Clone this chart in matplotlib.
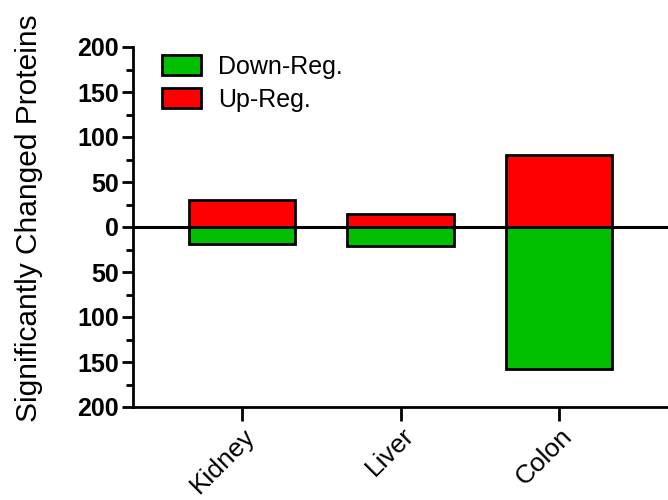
import matplotlib.pyplot as plt
from matplotlib.ticker import MultipleLocator, FuncFormatter
from matplotlib.transforms import ScaledTranslation
import numpy as np

plt.rcParams['font.family'] = ['Liberation Sans', 'DejaVu Sans']

tissues = ['Kidney', 'Liver', 'Colon']
up_reg = [30, 14, 80]
down_reg = [19, 21, 158]

green = '#00c000'
red = '#ff0000'

fig = plt.figure(figsize=(6.68, 5), dpi=100)
ax = fig.add_axes([133/668, 93/500, 1 - 133/668, 360/500])

x = np.arange(len(tissues))
w = 0.67
ax.bar(x, [-d for d in down_reg], width=w, color=green, edgecolor='black',
       linewidth=2, label='Down-Reg.', zorder=2)
ax.bar(x, up_reg, width=w, color=red, edgecolor='black',
       linewidth=2, label='Up-Reg.', zorder=2)
ax.axhline(0, color='black', linewidth=2.2, zorder=3)

ax.set_xlim(-0.69, 2.69)
ax.set_ylim(-200, 200)
ax.yaxis.set_major_locator(MultipleLocator(50))
ax.yaxis.set_minor_locator(MultipleLocator(25))
ax.yaxis.set_major_formatter(FuncFormatter(lambda v, p: '%d' % abs(v)))

for s in ['top', 'right']:
    ax.spines[s].set_visible(False)
for s in ['left', 'bottom']:
    ax.spines[s].set_linewidth(2)

ax.tick_params(axis='y', which='major', length=8, width=2, labelsize=18, pad=2)
ax.tick_params(axis='y', which='minor', length=5, width=2)
ax.tick_params(axis='x', length=10, width=2, pad=2)
for lab in ax.get_yticklabels():
    lab.set_fontweight('bold')

ax.set_xticks(x)
ax.set_xticklabels(tissues, rotation=45, ha='right', rotation_mode='anchor',
                   fontsize=19)
for lab in ax.get_xticklabels():
    lab.set_transform(lab.get_transform() + ScaledTranslation(0.01, 0, fig.dpi_scale_trans))

ax.set_ylabel('Significantly Changed Proteins', fontsize=21.5)
ax.yaxis.set_label_coords(-0.168, 0.525)

ax.legend(loc='upper left', bbox_to_anchor=(0.012, 1.04), frameon=False,
          fontsize=18, handlelength=1.55, handleheight=0.85, handletextpad=0.7,
          labelspacing=0.35)

fig.savefig('out.png', dpi=100)
